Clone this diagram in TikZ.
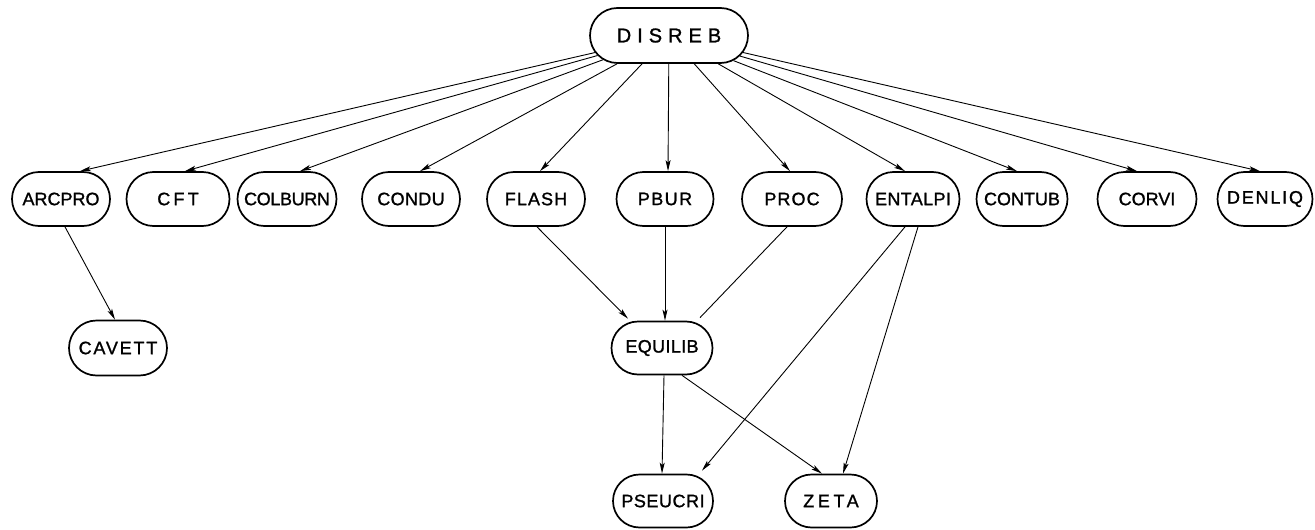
\documentclass[tikz,border=0pt]{standalone}
\usepackage{fontspec}
\newfontfamily\lettering{Liberation Sans}[FakeBold=1.2]
\usetikzlibrary{shapes.misc,arrows.meta}
% letter-spaced label text
\newcommand{\spaced}[2]{{\addfontfeature{LetterSpace=#1}#2}}
\tikzset{
  modbox/.style={draw, rounded rectangle, line width=1.7pt, inner sep=0pt,
    minimum height=54, font=\lettering\fontsize{18}{21}\selectfont},
  link/.style={line width=0.9pt, -{Stealth[length=11pt,width=5pt,inset=2.5pt]}},
  plainlink/.style={line width=0.9pt}
}
\begin{document}
\begin{tikzpicture}[x=1pt,y=-1pt]
\useasboundingbox (0,0) rectangle (1315,530);
% root routine
\node[modbox, minimum width=158, minimum height=55, font=\lettering\fontsize{20}{24}\selectfont]
  (disreb) at (669,35.5) {\spaced{30}{DISREB}};
% first level
\node[modbox, minimum width=98]  (arcpro)  at (61,199)   {\spaced{0}{ARCPRO}};
\node[modbox, minimum width=103] (cft)     at (178,199)  {\spaced{18}{CFT}};
\node[modbox, minimum width=99]  (colburn) at (287,199)  {\spaced{-2}{COLBURN}};
\node[modbox, minimum width=98]  (condu)   at (411,199)  {\spaced{2}{CONDU}};
\node[modbox, minimum width=98]  (flash)   at (536,199)  {\spaced{6}{FLASH}};
\node[modbox, minimum width=97]  (pbur)    at (665,199)  {\spaced{8}{PBUR}};
\node[modbox, minimum width=100] (proc)    at (792,199)  {\spaced{6}{PROC}};
\node[modbox, minimum width=93]  (entalpi) at (913,199)  {\spaced{2}{ENTALPI}};
\node[modbox, minimum width=91]  (contub)  at (1022,199) {\spaced{0}{CONTUB}};
\node[modbox, minimum width=99]  (corvi)   at (1147,199) {\spaced{0}{CORVI}};
\node[modbox, minimum width=95]  (denliq)  at (1265,199) {\spaced{10}{DENLIQ}};
% second level
\node[modbox, minimum width=98, minimum height=55]  (cavett)  at (118,348) {\spaced{10}{CAVETT}};
\node[modbox, minimum width=101, minimum height=53] (equilib) at (662,348) {\spaced{2}{EQUILIB}};
% third level
\node[modbox, minimum width=100, minimum height=53] (pseucri) at (663,501) {\spaced{3}{PSEUCRI}};
\node[modbox, minimum width=92, minimum height=53]  (zeta)    at (831,501) {\spaced{20}{ZETA}};
% calls from the root
\draw[link] (disreb) -- ([xshift=19]arcpro.north);
\draw[link] (disreb) -- ([xshift=7]cft.north);
\draw[link] (disreb) -- ([xshift=13]colburn.north);
\draw[link] (disreb) -- ([xshift=9]condu.north);
\draw[link] (disreb) -- ([xshift=4]flash.north);
\draw[link] (disreb) -- ([xshift=3]pbur.north);
\draw[link] (disreb) -- ([xshift=-2]proc.north);
\draw[link] (disreb) -- ([xshift=-8]entalpi.north);
\draw[link] (disreb) -- ([xshift=-5]contub.north);
\draw[link] (disreb) -- ([xshift=-10]corvi.north);
\draw[link] (disreb) -- ([xshift=-5]denliq.north);
% lower calls
\draw[link] ([xshift=4]arcpro.south) -- ([xshift=-3]cavett.north);
\draw[link] ([xshift=1]flash.south) -- ([xshift=-34,yshift=2]equilib.north);
\draw[link] (pbur.south) -- ([xshift=3]equilib.north);
\draw[plainlink] ([xshift=-5]proc.south) -- ([xshift=38,yshift=3]equilib.north);
\draw[link] ([xshift=2]equilib.south) -- ([xshift=-1]pseucri.north);
\draw[link] ([xshift=20]equilib.south) -- ([xshift=-9]zeta.north);
\draw[link] ([xshift=-8]entalpi.south) -- ([xshift=39,yshift=3]pseucri.north);
\draw[link] ([xshift=5]entalpi.south) -- ([xshift=12]zeta.north);
\end{tikzpicture}
\end{document}
